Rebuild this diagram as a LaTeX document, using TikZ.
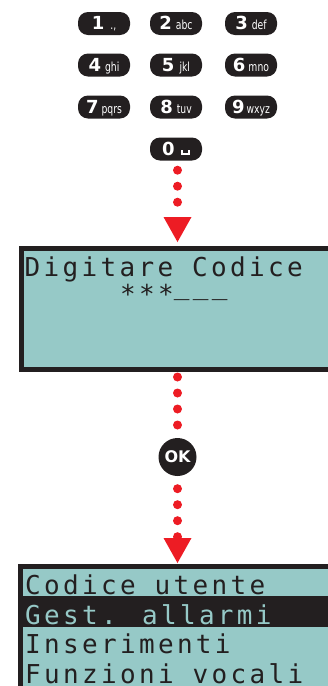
\documentclass[tikz,border=0pt]{standalone}
\usepackage{fontspec}
\setmainfont{DejaVu Sans}
\newfontfamily\lcdfont[LetterSpace=12.8]{DejaVu Sans Mono}
\usetikzlibrary{arrows.meta}
\definecolor{lcdteal}{RGB}{150,201,199}
\definecolor{ink}{RGB}{35,31,32}
\definecolor{arrowred}{RGB}{237,28,36}
\newcommand\keydigit[1]{{\fontsize{18}{18}\selectfont\bfseries #1}}
\newcommand\keyletters[1]{\scalebox{0.74}[1]{\fontsize{12.5}{12.5}\selectfont #1}}
\begin{document}
\begin{tikzpicture}[x=1pt,y=-1pt,
  padkey/.style={fill=ink, rounded corners=10pt, minimum width=52pt, minimum height=23pt,
    inner sep=0pt, text=white, text height=12.5pt, text depth=0pt},
  lcdbox/.style={draw=ink, fill=lcdteal, line width=5pt, inner sep=0pt},
  lcdtext/.style={font=\lcdfont\fontsize{26}{26}\selectfont, anchor=base west, inner sep=0pt, text=ink},
  dots/.style={draw=arrowred, line width=9pt, line cap=round, dash pattern=on 0pt off 16pt},
  tip/.style={-{Triangle[width=28pt,length=25pt,line width=0pt]}},
  okkey/.style={circle, fill=ink, minimum size=38pt, inner sep=0pt, text=white,
    font=\fontsize{16}{16}\selectfont\bfseries}
]
\useasboundingbox (0,0) rectangle (328,686);
\clip (0,0) rectangle (328,686);

% keypad
\node[padkey] (k1) at (104,23.5) {\keydigit{1}\kern6pt\keyletters{.,}};
\node[padkey] (k2) at (176,23.5) {\keydigit{2}\kern4pt\keyletters{abc}};
\node[padkey] (k3) at (251,23.5) {\keydigit{3}\kern4pt\keyletters{def}};
\node[padkey] (k4) at (104,65) {\keydigit{4}\kern4pt\keyletters{ghi}};
\node[padkey] (k5) at (176,65) {\keydigit{5}\kern5pt\keyletters{jkl}};
\node[padkey] (k6) at (251,65) {\keydigit{6}\kern3pt\keyletters{mno}};
\node[padkey] (k7) at (104,107) {\keydigit{7}\kern3pt\keyletters{pqrs}};
\node[padkey] (k8) at (176,107) {\keydigit{8}\kern4pt\keyletters{tuv}};
\node[padkey] (k9) at (251,107) {\keydigit{9}\kern2pt\keyletters{wxyz}};
\node[padkey] (k0) at (176,149) {\keydigit{0}\kern15pt};
\draw[white, line width=1.4pt] ([shift={(6pt,-1pt)}]k0.center) -- ++(0,4) -- ++(7,0) -- ++(0,-4);

% first display
\node[lcdbox, minimum width=316pt, minimum height=121pt] (scr1) at (179.5,309) {};
\node[lcdtext] (t1) at (24.5,276) {Digitare Codice};
\node[lcdtext] (t2) at (120,303) {***\raisebox{9pt}{\_\_\_}};

% OK key
\node[okkey] (ok) at (177.5,457) {OK};

% second display
\node[lcdbox, minimum width=322pt, minimum height=141pt] (scr2) at (181.5,637) {};
\fill[ink] (23,596) rectangle (345,627);
\node[lcdtext] (m1) at (25,594) {Codice utente};
\node[lcdtext, text=lcdteal] (m2) at (25,624) {Gest. allarmi};
\node[lcdtext] (m3) at (25,653) {Inserimenti};
\node[lcdtext] (m4) at (25,683) {Funzioni vocali};

% connectors
\draw[dots, tip, shorten <=9.5pt, shorten >=4pt] (k0.south -| ok) -- (scr1.north -| ok);
\draw[dots, shorten <=5pt] (scr1.south -| ok) -- (ok.north);
\draw[dots, tip, shorten <=12.5pt, shorten >=1pt] (ok.south) -- (scr2.north -| ok);
\end{tikzpicture}
\end{document}
